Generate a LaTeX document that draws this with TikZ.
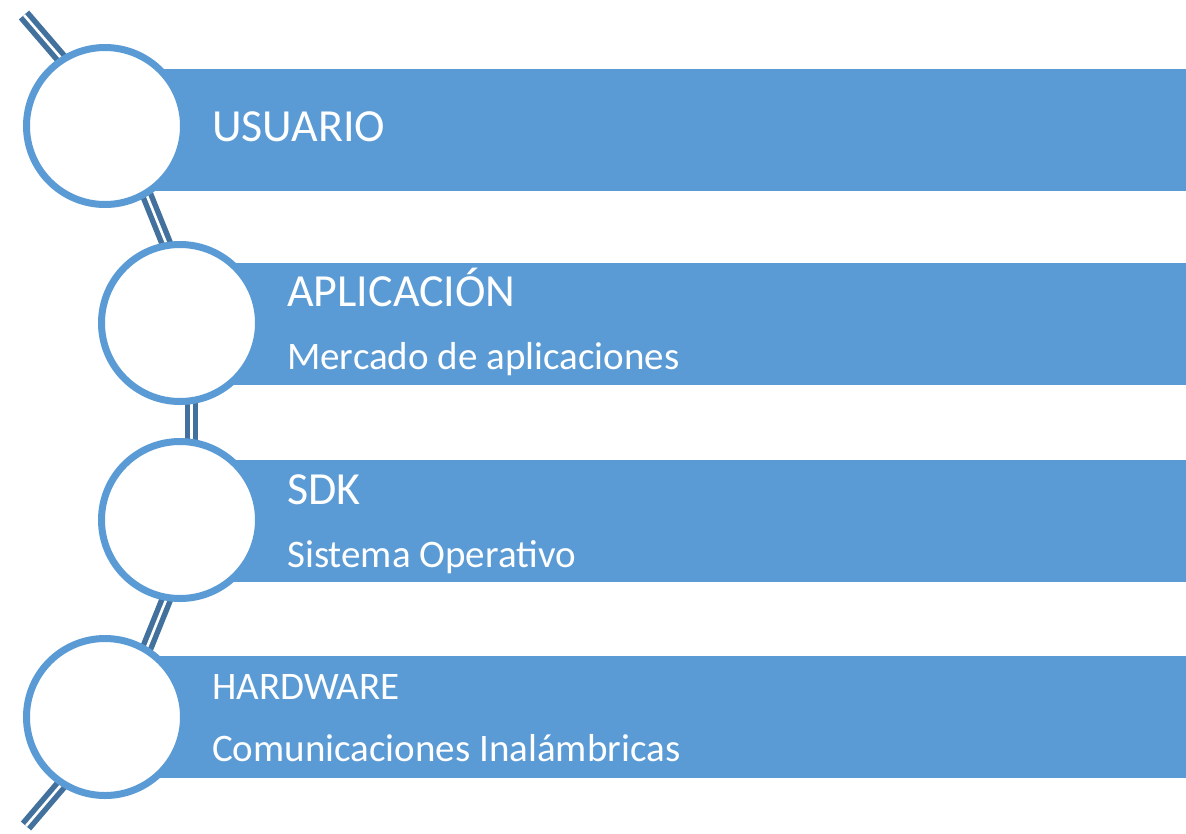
\documentclass[tikz,border=0pt]{standalone}
\usepackage{fontspec}
\setmainfont{Carlito}
\usetikzlibrary{backgrounds}
\definecolor{barblue}{HTML}{5B9BD5}
\definecolor{linkblue}{HTML}{41719C}
\begin{document}
\begin{tikzpicture}[x=1pt,y=-1pt,
  ring/.style={circle, draw=barblue, line width=7pt, fill=white, minimum size=157pt, inner sep=0pt},
  barbox/.style={fill=barblue},
  link/.style={draw=linkblue, double=white, double distance=2.6pt, line width=5.5pt},
  title/.style={anchor=base west, inner sep=0pt, text=white, font=\fontsize{46}{50}\selectfont},
  sub/.style={anchor=base west, inner sep=0pt, text=white, font=\fontsize{39}{44}\selectfont}]
\useasboundingbox (0,0) rectangle (1186,833);
\node[ring] (c1) at (105,126) {};
\node[ring] (c2) at (180,323) {};
\node[ring] (c3) at (180,520) {};
\node[ring] (c4) at (105,717) {};
\coordinate (topend) at (24,15);
\coordinate (botend) at (26,826);
\begin{scope}[on background layer]
  \fill[white] (0,0) rectangle (1186,833);
  \path[barbox] (105,69) rectangle (1186,191);
  \path[barbox] (180,263) rectangle (1186,385);
  \path[barbox] (180,460) rectangle (1186,582);
  \path[barbox] (105,656) rectangle (1186,778);
  \draw[link, shorten >=-6pt] (topend) -- (c1.123);
  \draw[link, shorten <=-6pt, shorten >=-6pt] (c1.301) -- (c2.100);
  \draw[link, shorten <=-6pt, shorten >=-6pt] (c2.278) -- (c3.82);
  \draw[link, shorten <=-6pt, shorten >=-6pt] (c3.260) -- (c4.59);
  \draw[link, shorten <=-6pt] (c4.237) -- (botend);
\end{scope}
\node[title] (t1) at (212,141) {USUARIO};
\node[title] (t2) at (287,306) {APLICACIÓN};
\node[sub] (s2) at (287,369) {Mercado de aplicaciones};
\node[title] (t3) at (287,504) {SDK};
\node[sub] (s3) at (287,567) {Sistema Operativo};
\node[sub] (t4) at (212,699) {HARDWARE};
\node[sub] (s4) at (212,761) {Comunicaciones Inalámbricas};
\end{tikzpicture}
\end{document}
